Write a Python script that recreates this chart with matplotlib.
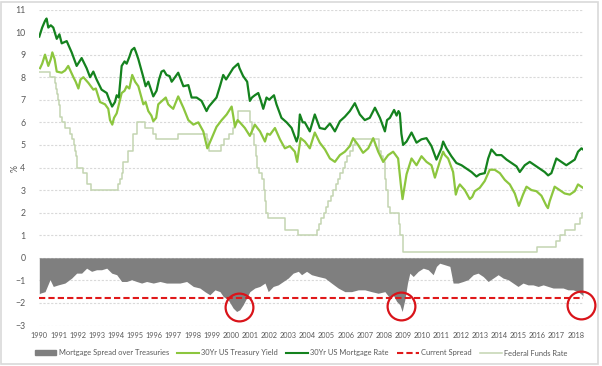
import numpy as np
import matplotlib
matplotlib.use("Agg")
import matplotlib.pyplot as plt
from matplotlib.patches import Patch, Rectangle
from matplotlib.lines import Line2D

plt.rcParams["font.family"] = ["Lato", "DejaVu Sans"]

# 30Yr US mortgage rate (decimal year, %)
mort_t = [1990.0, 1990.15, 1990.3, 1990.38, 1990.47, 1990.6, 1990.73, 1990.91, 1991.05, 1991.17,
          1991.43, 1991.69, 1991.95, 1992.1, 1992.21, 1992.47, 1992.65, 1992.82, 1992.99, 1993.25,
          1993.52, 1993.65, 1993.8, 1993.95, 1994.04, 1994.15, 1994.3, 1994.45, 1994.56, 1994.7,
          1994.82, 1994.96, 1995.05, 1995.17, 1995.3, 1995.43, 1995.55, 1995.69, 1995.85, 1995.95,
          1996.12, 1996.25, 1996.38, 1996.5, 1996.64, 1996.8, 1996.91, 1997.0, 1997.25, 1997.52,
          1997.78, 1997.95, 1998.21, 1998.47, 1998.73, 1998.85, 1999.0, 1999.25, 1999.43, 1999.6,
          1999.75, 1999.86, 2000.12, 2000.38, 2000.45, 2000.64, 2000.85, 2000.99, 2001.1, 2001.25,
          2001.43, 2001.55, 2001.69, 2001.86, 2002.0, 2002.12, 2002.25, 2002.38, 2002.64, 2002.91,
          2003.17, 2003.43, 2003.52, 2003.6, 2003.75, 2003.86, 2004.12, 2004.38, 2004.64, 2004.91,
          2005.17, 2005.43, 2005.69, 2005.95, 2006.21, 2006.47, 2006.73, 2006.99, 2007.25, 2007.52,
          2007.78, 2008.04, 2008.15, 2008.3, 2008.52, 2008.65, 2008.75, 2008.82, 2008.9, 2008.99,
          2009.17, 2009.43, 2009.69, 2009.95, 2010.21, 2010.47, 2010.73, 2010.99, 2011.08, 2011.25,
          2011.51, 2011.77, 2012.04, 2012.3, 2012.56, 2012.82, 2012.99, 2013.25, 2013.43, 2013.6,
          2013.86, 2014.12, 2014.39, 2014.65, 2014.91, 2015.08, 2015.34, 2015.6, 2015.86, 2016.12,
          2016.38, 2016.56, 2016.73, 2016.99, 2017.25, 2017.51, 2017.77, 2017.95, 2018.12, 2018.3,
          2018.38]
mort_v = [9.8, 10.2, 10.5, 10.6, 10.2, 10.3, 10.2, 9.7, 9.9, 9.5,
          9.6, 9.1, 8.5, 8.7, 8.85, 8.4, 8.0, 8.25, 7.9, 7.45,
          7.3, 7.0, 6.7, 6.9, 7.2, 7.1, 8.5, 8.7, 8.6, 8.9,
          9.2, 9.3, 9.1, 8.8, 8.4, 8.0, 7.6, 7.8, 7.4, 7.15,
          7.4, 7.9, 8.25, 8.3, 8.1, 8.05, 7.8, 7.9, 8.2, 7.6,
          7.65, 7.1, 7.1, 6.95, 6.5, 6.7, 6.85, 7.1, 7.6, 8.1,
          7.9, 8.05, 8.4, 8.6, 8.4, 8.05, 7.8, 6.95, 7.1, 7.2,
          7.3, 7.0, 6.6, 7.1, 7.0, 7.1, 7.2, 6.8, 6.2, 6.0,
          5.75, 5.15, 5.4, 6.35, 6.0, 6.0, 5.6, 6.35, 5.75, 5.7,
          5.95, 5.6, 6.05, 6.25, 6.5, 6.85, 6.35, 6.1, 6.2, 6.65,
          6.2, 5.6, 6.1, 6.2, 6.55, 6.3, 6.5, 6.4, 5.5, 5.0,
          5.15, 5.55, 5.1, 5.25, 5.3, 4.95, 4.35, 4.85, 5.15, 4.85,
          4.5, 4.2, 4.1, 3.95, 3.8, 3.6, 3.7, 3.75, 4.4, 4.8,
          4.55, 4.55, 4.35, 4.2, 4.05, 3.8, 4.1, 4.25, 4.1, 3.95,
          3.8, 3.65, 3.75, 4.4, 4.25, 4.1, 4.25, 4.35, 4.7, 4.85,
          4.8]

# 30Yr US Treasury yield
tsy_t = [1990.04, 1990.15, 1990.3, 1990.4, 1990.47, 1990.6, 1990.68, 1990.8, 1990.91, 1991.17,
         1991.35, 1991.51, 1991.78, 1991.9, 1992.04, 1992.15, 1992.3, 1992.56, 1992.82, 1992.95,
         1993.17, 1993.43, 1993.6, 1993.69, 1993.81, 1993.9, 1994.04, 1994.3, 1994.45, 1994.56,
         1994.7, 1994.85, 1995.0, 1995.17, 1995.43, 1995.55, 1995.69, 1995.85, 1995.95, 1996.1,
         1996.21, 1996.47, 1996.6, 1996.73, 1996.85, 1996.99, 1997.25, 1997.52, 1997.78, 1998.04,
         1998.3, 1998.56, 1998.77, 1998.9, 1999.0, 1999.25, 1999.52, 1999.78, 2000.04, 2000.12,
         2000.21, 2000.35, 2000.47, 2000.73, 2000.99, 2001.25, 2001.52, 2001.78, 2001.9, 2002.04,
         2002.3, 2002.56, 2002.82, 2003.08, 2003.34, 2003.46, 2003.64, 2003.86, 2004.12, 2004.38,
         2004.64, 2004.91, 2005.17, 2005.43, 2005.69, 2005.95, 2006.21, 2006.38, 2006.64, 2006.9,
         2007.17, 2007.43, 2007.69, 2007.95, 2008.21, 2008.47, 2008.73, 2008.87, 2008.96, 2009.17,
         2009.43, 2009.69, 2009.95, 2010.21, 2010.47, 2010.65, 2010.9, 2011.08, 2011.17, 2011.34,
         2011.6, 2011.74, 2011.85, 2011.95, 2012.21, 2012.47, 2012.6, 2012.73, 2012.99, 2013.25,
         2013.51, 2013.77, 2014.04, 2014.3, 2014.56, 2014.82, 2015.03, 2015.25, 2015.43, 2015.69,
         2015.95, 2016.21, 2016.47, 2016.55, 2016.64, 2016.9, 2017.16, 2017.42, 2017.69, 2017.95,
         2018.12, 2018.3, 2018.38]
tsy_v = [8.4, 8.6, 9.0, 8.7, 8.5, 8.8, 9.1, 8.8, 8.25, 8.2,
         8.3, 8.5, 8.0, 7.8, 7.5, 7.9, 8.0, 7.75, 7.45, 7.5,
         6.9, 6.8, 6.6, 6.1, 5.9, 6.2, 6.4, 7.3, 7.4, 7.6,
         7.5, 8.1, 7.8, 7.6, 6.8, 6.9, 6.5, 6.3, 6.05, 6.2,
         6.8, 7.0, 7.1, 6.8, 6.7, 6.6, 7.15, 6.65, 6.1, 5.9,
         6.0, 5.6, 4.85, 5.1, 5.3, 5.8, 6.1, 6.35, 6.7, 6.3,
         5.8, 6.1, 6.0, 5.75, 5.4, 5.9, 5.6, 5.15, 5.5, 5.45,
         5.75, 5.25, 4.85, 4.95, 4.7, 4.25, 5.3, 5.15, 4.85, 5.55,
         5.1, 4.8, 4.4, 4.25, 4.55, 4.7, 4.95, 5.3, 5.0, 4.65,
         4.85, 5.3, 4.7, 4.25, 4.55, 4.7, 4.4, 3.25, 2.6, 3.7,
         4.4, 4.1, 4.5, 4.25, 4.1, 3.55, 4.25, 4.7, 4.55, 4.4,
         3.8, 2.8, 3.1, 3.25, 3.0, 2.6, 2.7, 2.95, 3.1, 3.4,
         3.9, 3.9, 3.75, 3.45, 3.25, 2.85, 2.3, 2.8, 3.15, 3.0,
         2.95, 2.75, 2.3, 2.2, 2.5, 3.15, 3.0, 2.85, 2.8, 2.95,
         3.25, 3.15, 3.1]

# Federal funds target rate, change dates
ffr_t = [1990.0, 1990.54, 1990.83, 1990.87, 1990.93, 1990.97, 1991.02, 1991.09, 1991.18, 1991.33,
         1991.6, 1991.7, 1991.83, 1991.85, 1991.93, 1991.97, 1992.27, 1992.5, 1992.68, 1994.09,
         1994.23, 1994.3, 1994.37, 1994.62, 1994.87, 1995.09, 1995.52, 1995.96, 1996.08, 1997.23,
         1998.74, 1998.79, 1998.87, 1999.5, 1999.65, 1999.88, 2000.09, 2000.22, 2000.38, 2001.01,
         2001.08, 2001.22, 2001.3, 2001.38, 2001.49, 2001.64, 2001.72, 2001.76, 2001.84, 2001.95,
         2002.85, 2003.49, 2004.49, 2004.61, 2004.72, 2004.87, 2004.96, 2005.09, 2005.22, 2005.34,
         2005.5, 2005.61, 2005.72, 2005.84, 2005.96, 2006.08, 2006.24, 2006.36, 2006.49, 2007.71,
         2007.83, 2007.95, 2008.06, 2008.08, 2008.21, 2008.33, 2008.77, 2008.83, 2008.96, 2015.96,
         2016.95, 2017.2, 2017.46, 2017.96, 2018.21, 2018.33, 2018.38]
ffr_v = [8.25, 8.0, 7.75, 7.5, 7.25, 7.0, 6.75, 6.25, 6.0, 5.75,
         5.5, 5.25, 5.0, 4.75, 4.5, 4.0, 3.75, 3.25, 3.0, 3.25,
         3.5, 3.75, 4.25, 4.75, 5.5, 6.0, 5.75, 5.5, 5.25, 5.5,
         5.25, 5.0, 4.75, 5.0, 5.25, 5.5, 5.75, 6.0, 6.5, 6.0,
         5.5, 5.0, 4.5, 4.0, 3.75, 3.5, 3.0, 2.5, 2.0, 1.75,
         1.25, 1.0, 1.25, 1.5, 1.75, 2.0, 2.25, 2.5, 2.75, 3.0,
         3.25, 3.5, 3.75, 4.0, 4.25, 4.5, 4.75, 5.0, 5.25, 4.75,
         4.5, 4.25, 3.5, 3.0, 2.25, 2.0, 1.5, 1.0, 0.25, 0.5,
         0.75, 1.0, 1.25, 1.5, 1.75, 2.0, 2.0]

# mortgage spread over treasuries (negative)
spread_t = [1990.0, 1990.04, 1990.3, 1990.56, 1990.73, 1990.99, 1991.34, 1991.69, 1991.95, 1992.21,
            1992.47, 1992.73, 1992.99, 1993.25, 1993.52, 1993.78, 1994.04, 1994.3, 1994.56, 1994.82,
            1995.08, 1995.34, 1995.6, 1995.95, 1996.3, 1996.64, 1996.99, 1997.34, 1997.69, 1998.04,
            1998.38, 1998.64, 1998.9, 1999.17, 1999.43, 1999.6, 1999.86, 2000.12, 2000.3, 2000.47,
            2000.64, 2000.82, 2000.99, 2001.25, 2001.51, 2001.78, 2001.95, 2002.21, 2002.47, 2002.73,
            2002.99, 2003.25, 2003.52, 2003.69, 2003.95, 2004.21, 2004.56, 2004.91, 2005.25, 2005.6,
            2005.95, 2006.3, 2006.65, 2006.99, 2007.34, 2007.69, 2008.04, 2008.3, 2008.47, 2008.65,
            2008.82, 2008.94, 2009.08, 2009.22, 2009.34, 2009.52, 2009.78, 2010.04, 2010.3, 2010.56,
            2010.73, 2010.9, 2011.17, 2011.43, 2011.6, 2011.86, 2012.12, 2012.38, 2012.65, 2012.9,
            2013.17, 2013.43, 2013.69, 2013.95, 2014.21, 2014.47, 2014.73, 2014.99, 2015.25, 2015.51,
            2015.77, 2016.04, 2016.3, 2016.56, 2016.82, 2017.08, 2017.34, 2017.6, 2017.86, 2018.12,
            2018.33, 2018.38]
spread_v = [-1.6, -1.57, -1.5, -0.97, -1.27, -1.2, -1.12, -0.9, -0.68, -0.68,
            -0.46, -0.6, -0.53, -0.53, -0.46, -0.68, -0.75, -1.05, -1.05, -0.97,
            -1.05, -1.12, -1.05, -1.12, -1.05, -1.12, -1.12, -1.12, -1.05, -1.27,
            -1.34, -1.5, -1.64, -1.42, -1.5, -1.71, -1.86, -2.23, -2.38, -2.3,
            -2.08, -1.79, -1.5, -1.34, -1.27, -1.12, -1.5, -1.27, -1.2, -1.05,
            -0.9, -0.68, -0.6, -0.75, -0.6, -0.75, -0.83, -0.9, -1.12, -1.34,
            -1.5, -1.5, -1.42, -1.42, -1.5, -1.57, -1.5, -1.79, -1.64, -1.93,
            -2.08, -2.38, -1.86, -1.12, -0.68, -0.83, -0.6, -0.46, -0.53, -0.75,
            -0.38, -0.24, -0.31, -0.38, -1.12, -1.12, -1.05, -0.97, -0.75, -0.68,
            -0.83, -1.05, -0.9, -0.75, -0.9, -0.97, -1.12, -1.27, -1.12, -1.2,
            -1.2, -1.27, -1.2, -1.27, -1.34, -1.34, -1.34, -1.42, -1.42, -1.5,
            -1.64, -1.7]

current_spread = -1.76
highlight_t = [2000.42, 2008.87, 2018.29]
highlight_v = [-2.16, -2.13, -2.08]
years = list(range(1990, 2019))

fig = plt.figure(figsize=(6.02, 3.66), dpi=100)
ax = fig.add_axes([39.3 / 602, 1 - 325.5 / 366, (583 - 39.3) / 602, (325.5 - 9.5) / 366])

ax.fill_between(spread_t, spread_v, 0, color="#7f7f7f", linewidth=0, zorder=2)
ax.plot(ffr_t, ffr_v, color="#c3d5b1", lw=1.1, drawstyle="steps-post", zorder=3)
ax.plot(tsy_t, tsy_v, color="#8cc63e", lw=1.6, zorder=4)
ax.plot(mort_t, mort_v, color="#14821e", lw=1.6, zorder=5)
ax.axhline(current_spread, color="#e0191a", lw=1.5, ls=(0, (3, 1.5)), zorder=6)
ax.plot(highlight_t, highlight_v, "o", ms=20, mfc="none", mec="#d9141a", mew=1.6,
        clip_on=False, zorder=7)

ax.set_xlim(1990, 2018.38)
ax.set_ylim(-3, 11)
ax.set_yticks(range(-3, 12))
ax.set_xticks(years)
ax.set_xticklabels([str(y) for y in years])
ax.tick_params(axis="both", length=0, colors="#595959")
ax.tick_params(axis="x", labelsize=5.3, pad=5)
ax.tick_params(axis="y", labelsize=6.3, pad=10)
ax.yaxis.grid(True, color="#d9d9d9", lw=0.8, ls=(0, (2, 1.5)), zorder=0)
ax.set_axisbelow(True)
for s in ax.spines.values():
    s.set_visible(False)
fig.text(15 / 602, 1 - 168 / 366, "%", rotation=90, fontsize=6.3, color="#595959",
         ha="center", va="center")

handles = [
    Patch(color="#7f7f7f"),
    Line2D([], [], color="#8cc63e", lw=1.5),
    Line2D([], [], color="#14821e", lw=1.5),
    Line2D([], [], color="#e0191a", lw=1.5, ls=(0, (3, 1.5))),
    Line2D([], [], color="#c3d5b1", lw=1.1),
]
labels = ["Mortgage Spread over Treasuries", "30Yr US Treasury Yield", "30Yr US Mortgage Rate",
          "Current Spread", "Federal Funds Rate"]
leg = fig.legend(handles, labels, loc="center", bbox_to_anchor=(0.5, 1 - 353 / 366), ncol=5,
                 frameon=False, fontsize=5.4, handlelength=2.9, handleheight=0.6,
                 columnspacing=1.1, handletextpad=0.3)
for t in leg.get_texts():
    t.set_color("#595959")

fig.patches.append(Rectangle((1 / 602, 2 / 366), 597 / 602, 362 / 366, transform=fig.transFigure,
                             fill=False, edgecolor="#d9d9d9", lw=1.2))

fig.savefig("out.png", dpi=100)
